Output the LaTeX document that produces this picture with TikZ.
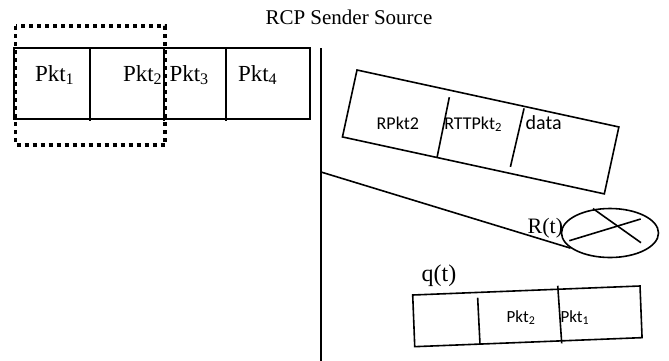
\documentclass[tikz,border=0pt]{standalone}
\usepackage{fontspec}
\setmainfont{Liberation Serif}
\newfontfamily\calibri{Carlito}
\usetikzlibrary{shapes.geometric}
\tikzset{
  lbl/.style={inner sep=0pt, outer sep=0pt, anchor=base west},
  ln/.style={line width=1.6pt},
  dotbox/.style={line width=3.5pt, dash pattern=on 4pt off 4pt},
}
\begin{document}
\begin{tikzpicture}[x=1pt,y=-1pt]
\useasboundingbox[fill=white] (0,0) rectangle (669,360);

% title
\node[lbl, font=\fontsize{21}{25}\selectfont] (title) at (265.5,24) {RCP Sender Source};

% sender buffer
\draw[ln] (14,48) rectangle (310,119);
\draw[ln] (90,48) -- (90,121);
\draw[ln] (164,48) -- (164,121);
\draw[ln] (226,48) -- (226,121);
\draw[dotbox] (15.5,26) rectangle (165,145);
\node[lbl, font=\fontsize{23}{27}\selectfont] (p1) at (35,81) {Pkt\textsubscript{1}};
\node[lbl, font=\fontsize{23}{27}\selectfont] (p2) at (123,81) {Pkt\textsubscript{2}};
\node[lbl, font=\fontsize{23}{27}\selectfont] (p3) at (169.5,81) {Pkt\textsubscript{3}};
\node[lbl, font=\fontsize{23}{27}\selectfont] (p4) at (238,81) {Pkt\textsubscript{4}};

% vertical link
\coordinate (vtop) at (321,48);
\coordinate (vbot) at (321,362);
\coordinate (vsrc) at (321,172);
\draw[ln] (vtop) -- (vbot);

% packet in flight
\begin{scope}[shift={(357,70)}, rotate=-12.27]
  \draw[ln] (0,0) rectangle (268,68.5);
  \draw[ln] (96,7) -- (96.8,68.5);
  \draw[ln] (171.4,2) -- (170.5,62);
\end{scope}
\node[lbl, font=\calibri\fontsize{18}{22}\selectfont] (rpkt) at (376.7,129.3) {RPkt2};
\node[lbl, font=\calibri\fontsize{18}{22}\selectfont] (rtt) at (444.3,129.3) {RTTPkt\textsubscript{2}};
\node[lbl, font=\calibri\fontsize{20}{24}\selectfont] (data) at (525.7,129.3) {data};

% router
\node[ellipse, draw, line width=1.6pt, minimum width=97pt, minimum height=49pt, inner sep=0pt] (rt) at (610,233) {};
\draw[ln] (569.3,240.7) -- (640.7,219);
\draw[ln] (593,208.6) -- (641,242.7);
\draw[ln] (vsrc) -- (rt.201);
\node[lbl, font=\fontsize{22}{26}\selectfont] (rlab) at (527.7,233.3) {R(t)};

% queue
\node[lbl, font=\fontsize{24}{28}\selectfont] (qlab) at (421.7,281) {q(t)};
\begin{scope}[shift={(412.7,295)}, rotate=2.27]
  \draw[ln] (0,0) rectangle (227.5,51.7);
  \draw[ln] (64.8,5.3) -- (65.3,51.7);
  \draw[ln] (145.3,-3.5) -- (147,54.2);
\end{scope}
\node[lbl, font=\calibri\fontsize{17}{21}\selectfont] (q2) at (506.7,322) {Pkt\textsubscript{2}};
\node[lbl, font=\calibri\fontsize{17}{21}\selectfont] (q1) at (560.5,322) {Pkt\textsubscript{1}};
\end{tikzpicture}
\end{document}
